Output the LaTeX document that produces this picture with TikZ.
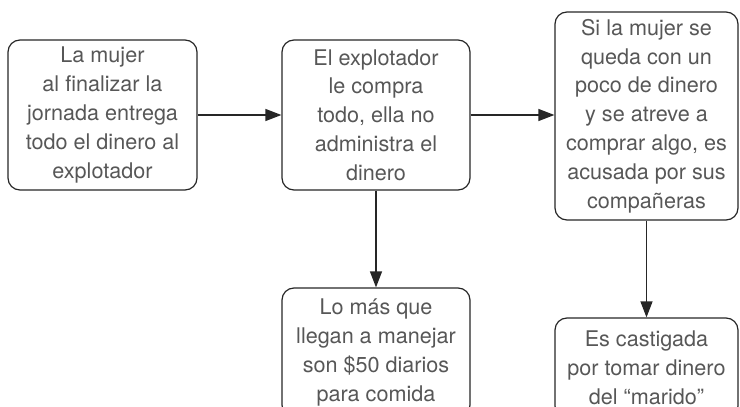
\documentclass[tikz,border=0pt]{standalone}
\usepackage{fontspec}
\setmainfont{TeX Gyre Heros}
\usetikzlibrary{arrows.meta}

\tikzset{
  stepbox/.style={draw=black!85, line width=0.9pt, rounded corners=9pt,
    inner sep=0pt, align=center, text=black!66,
    font=\fontsize{16.2}{21.6}\selectfont},
  flecha/.style={draw=black!85, line width=0.9pt,
    -{Triangle[length=12pt,width=9pt]}}
}

\begin{document}
\begin{tikzpicture}[x=0.75pt,y=0.75pt,yscale=-1,xscale=1]
\useasboundingbox (0,0) rectangle (740,407);

%Shape: Rounded Rect [id:entrega]
\node [stepbox, minimum width=141.75pt, minimum height=112.5pt] (entrega) at (102.5,115)
  {La mujer\\al finalizar la\\jornada entrega\\todo el dinero al\\explotador};
%Shape: Rounded Rect [id:compra]
\node [stepbox, minimum width=141pt, minimum height=112.5pt] (compra) at (376,115)
  {El explotador\\le compra\\todo, ella no\\administra el\\dinero};
%Shape: Rounded Rect [id:acusada]
\node [stepbox, minimum width=137.25pt, minimum height=156pt] (acusada) at (646.5,116)
  {Si la mujer se\\queda con un\\poco de dinero\\y se atreve a\\comprar algo, es\\acusada por sus\\compañeras};
%Shape: Rounded Rect [id:manejo]
\node [stepbox, minimum width=141pt, minimum height=96.75pt] (manejo) at (376,352.5)
  {Lo más que\\llegan a manejar\\son \$50 diarios\\para comida};
%Shape: Rounded Rect [id:castigo]
\node [stepbox, minimum width=137.25pt, minimum height=75pt] (castigo) at (646.5,368)
  {Es castigada\\por tomar dinero\\del “marido”};

%Straight Lines
\draw [flecha] (entrega.east) -- (compra.west);
\draw [flecha] (compra.east) -- (compra.east -| acusada.west);
\draw [flecha] (compra.south) -- (manejo.north);
\draw [flecha] (acusada.south) -- (castigo.north);

\end{tikzpicture}
\end{document}
